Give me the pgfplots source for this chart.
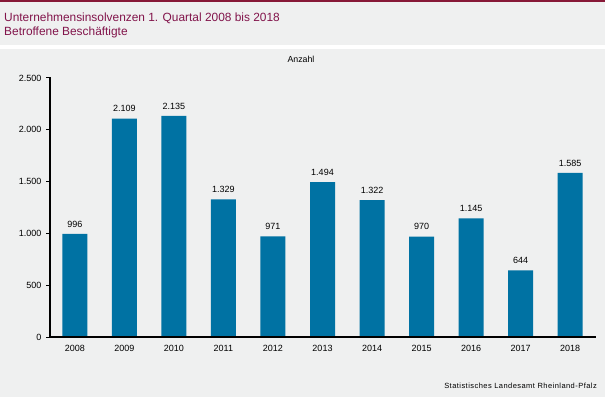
\documentclass[border=0pt]{standalone}
\usepackage{fontspec}
\setmainfont{Liberation Sans}
\usepackage{pgfplots}
\pgfplotsset{compat=1.18}
\definecolor{bg}{RGB}{239,240,240}
\definecolor{barc}{RGB}{0,114,163}
\definecolor{topred}{RGB}{135,25,55}
\definecolor{titc}{RGB}{130,20,75}
\begin{document}
\begin{tikzpicture}[x=1pt,y=1pt]
\fill[bg] (0,0) rectangle (605,397);
\fill[topred] (0,394.5) rectangle (605,397);
\fill[white] (0,348) rectangle (605,352);
\node[anchor=base west,inner sep=0pt,text=titc,font=\fontsize{11.9}{13}\selectfont] at (4,375) {Unternehmensinsolvenzen 1. Quartal 2008 bis 2018};
\node[anchor=base west,inner sep=0pt,text=titc,font=\fontsize{11.9}{13}\selectfont] at (4,361) {Betroffene Beschäftigte};
\node[anchor=base,inner sep=0pt,font=\fontsize{8.8}{10}\selectfont] at (301,334) {Anzahl};
\node[anchor=base east,inner sep=0pt,font=\fontsize{7.5}{9}\selectfont\addfontfeature{LetterSpace=6}] at (597,9) {Statistisches Landesamt Rheinland-Pfalz};
\begin{axis}[
  at={(50pt,60pt)}, anchor=south west,
  scale only axis, width=545pt, height=259pt,
  xmin=-0.5, xmax=10.5, ymin=0, ymax=2500,
  ybar, bar width=25pt,
  axis x line*=bottom, axis y line*=left,
  axis line style={line width=2pt, -},
  xtick={0,...,10},
  xticklabels={2008,2009,2010,2011,2012,2013,2014,2015,2016,2017,2018},
  extra x ticks={-0.5,0.5,...,10.5},
  extra x tick labels={},
  extra x tick style={major tick length=4pt, tick style={line width=1pt, black}, tick align=outside},
  x tick style={draw=none},
  ytick={0,500,...,2500},
  y tick style={line width=1pt, black},
  tick align=outside, major tick length=4pt,
  tick label style={font=\fontsize{9}{10}\selectfont},
  /pgf/number format/assume math mode=true,
  /pgf/number format/1000 sep={.},
  yticklabel style={xshift=-1pt},
  xticklabel style={yshift=-1pt},
  nodes near coords,
  every node near coord/.append style={font=\fontsize{9}{10}\selectfont, yshift=3pt},
  nodes near coords style={/pgf/number format/1000 sep={.}},
  axis background/.style={fill=bg},
  clip=false,
]
\addplot[fill=barc, draw=none] coordinates {(0,996) (1,2109) (2,2135) (3,1329) (4,971) (5,1494) (6,1322) (7,970) (8,1145) (9,644) (10,1585)};
\draw[line width=2pt, black, line cap=rect] (axis cs:-0.5,2500) -- (axis cs:-0.5,0) -- (axis cs:10.5,0);
\end{axis}
\end{tikzpicture}
\end{document}
